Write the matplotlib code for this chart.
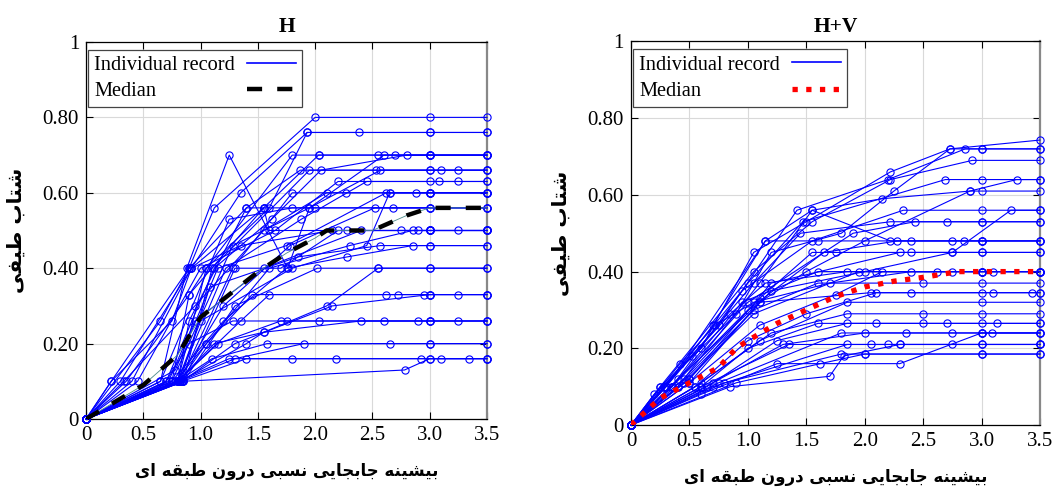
import matplotlib
matplotlib.use('Agg')
import matplotlib.pyplot as plt
from matplotlib.lines import Line2D

# Peak inter-story drift (x) vs spectral acceleration (y), one list per record

h_x = [
    [0, 0.22, 0.90, 1.12, 2.00, 3.00, 3.50],
    [0, 0.30, 0.92, 1.35, 1.93, 2.38, 3.00, 3.50],
    [0, 0.80, 1.05, 1.60, 1.93, 3.00, 3.50],
    [0, 0.65, 0.88, 1.25, 1.76, 1.95, 2.60, 3.00, 3.50],
    [0, 0.75, 0.90, 1.05, 1.80, 2.03, 2.70, 3.00, 3.50],
    [0, 0.40, 0.92, 1.55, 2.03, 2.55, 3.00, 3.50],
    [0, 0.70, 1.12, 1.62, 2.05, 2.80, 3.00, 3.50],
    [0, 0.80, 0.90, 1.40, 1.87, 2.53, 3.00, 3.50],
    [0, 0.85, 1.10, 1.95, 3.00, 3.25, 3.50],
    [0, 0.75, 1.28, 1.95, 2.57, 3.10, 3.50],
    [0, 0.45, 1.00, 1.65, 2.20, 3.00, 3.50],
    [0, 0.80, 1.22, 1.88, 2.45, 3.08, 3.25, 3.50],
    [0, 0.82, 1.28, 1.80, 2.27, 3.00, 3.50],
    [0, 0.33, 0.95, 1.55, 2.10, 2.65, 2.88, 3.00, 3.50],
    [0, 0.78, 1.15, 1.75, 2.62, 3.00, 3.50],
    [0, 0.65, 1.25, 1.80, 2.68, 3.00, 3.50],
    [0, 0.80, 1.20, 1.78, 2.52, 3.00, 3.50],
    [0, 0.85, 1.30, 1.70, 2.20, 2.75, 3.00, 3.50],
    [0, 0.72, 0.95, 1.55, 2.40, 2.90, 3.00, 3.50],
    [0, 0.78, 1.05, 1.60, 2.30, 2.85, 3.00, 3.25, 3.50],
    [0, 0.80, 1.00, 1.80, 2.45, 2.65, 3.00, 3.50],
    [0, 0.82, 1.08, 1.85, 2.57, 3.00, 3.50],
    [0, 0.75, 1.20, 1.75, 2.28, 2.85, 3.00, 3.50],
    [0, 0.85, 1.30, 2.02, 2.55, 3.00, 3.50],
    [0, 0.80, 1.12, 1.55, 2.10, 2.55, 3.00, 3.50],
    [0, 0.80, 1.35, 1.60, 2.62, 3.00, 3.50],
    [0, 0.82, 1.05, 1.45, 2.72, 2.95, 3.00, 3.50],
    [0, 0.84, 1.30, 2.15, 3.00, 3.25, 3.50],
    [0, 0.70, 0.90, 1.28, 1.75, 2.60, 3.00, 3.50],
    [0, 0.80, 1.15, 1.70, 2.03, 2.90, 3.00, 3.50],
    [0, 0.82, 1.40, 1.55, 2.40, 3.00, 3.25, 3.50],
    [0, 0.80, 1.10, 1.58, 2.65, 3.00, 3.50],
    [0, 0.82, 1.30, 1.90, 3.00, 3.50],
    [0, 0.80, 1.25, 2.18, 2.92, 3.00, 3.50],
    [0, 0.84, 1.40, 1.80, 3.10, 3.34, 3.50],
    [0, 0.84, 2.78, 3.00, 3.50],
    [0, 0.65, 0.90, 1.40, 1.55, 2.00, 3.00, 3.50],
    [0, 0.22, 0.75, 0.92, 1.35, 2.15, 3.00, 3.50],
    [0, 0.35, 0.90, 1.55, 1.60, 2.28, 3.00, 3.50],
]
h_y = [
    [0, 0.10, 0.40, 0.56, 0.80, 0.80, 0.80],
    [0, 0.10, 0.40, 0.60, 0.76, 0.76, 0.76, 0.76],
    [0, 0.10, 0.40, 0.56, 0.76, 0.76, 0.76],
    [0, 0.10, 0.40, 0.70, 0.40, 0.56, 0.70, 0.70, 0.70],
    [0, 0.10, 0.33, 0.40, 0.70, 0.70, 0.70, 0.70, 0.70],
    [0, 0.10, 0.40, 0.56, 0.70, 0.70, 0.70, 0.70],
    [0, 0.10, 0.40, 0.53, 0.66, 0.70, 0.70, 0.70],
    [0, 0.10, 0.26, 0.56, 0.66, 0.66, 0.66, 0.66],
    [0, 0.10, 0.40, 0.66, 0.66, 0.66, 0.66],
    [0, 0.10, 0.46, 0.56, 0.66, 0.66, 0.66],
    [0, 0.10, 0.40, 0.50, 0.63, 0.63, 0.63],
    [0, 0.10, 0.40, 0.53, 0.63, 0.63, 0.63, 0.63],
    [0, 0.10, 0.40, 0.60, 0.60, 0.60, 0.60],
    [0, 0.10, 0.30, 0.50, 0.60, 0.60, 0.60, 0.60, 0.60],
    [0, 0.13, 0.40, 0.46, 0.60, 0.60, 0.60],
    [0, 0.10, 0.53, 0.56, 0.56, 0.56, 0.56],
    [0, 0.10, 0.30, 0.46, 0.56, 0.56, 0.56],
    [0, 0.10, 0.40, 0.40, 0.50, 0.50, 0.50, 0.50],
    [0, 0.10, 0.26, 0.40, 0.50, 0.50, 0.50, 0.50],
    [0, 0.10, 0.20, 0.40, 0.46, 0.50, 0.50, 0.50, 0.50],
    [0, 0.10, 0.26, 0.40, 0.46, 0.60, 0.60, 0.60],
    [0, 0.10, 0.35, 0.43, 0.46, 0.46, 0.46],
    [0, 0.10, 0.26, 0.40, 0.43, 0.46, 0.46, 0.46],
    [0, 0.10, 0.30, 0.40, 0.40, 0.40, 0.40],
    [0, 0.10, 0.20, 0.23, 0.30, 0.40, 0.40, 0.40],
    [0, 0.10, 0.26, 0.33, 0.33, 0.33, 0.33],
    [0, 0.10, 0.20, 0.33, 0.33, 0.33, 0.33, 0.33],
    [0, 0.10, 0.20, 0.30, 0.33, 0.33, 0.33],
    [0, 0.10, 0.20, 0.26, 0.26, 0.26, 0.26, 0.26],
    [0, 0.10, 0.20, 0.26, 0.26, 0.26, 0.26, 0.26],
    [0, 0.10, 0.20, 0.23, 0.26, 0.26, 0.26, 0.26],
    [0, 0.10, 0.16, 0.20, 0.20, 0.20, 0.20],
    [0, 0.10, 0.16, 0.20, 0.20, 0.20],
    [0, 0.10, 0.16, 0.16, 0.16, 0.16, 0.16],
    [0, 0.10, 0.16, 0.16, 0.16, 0.16, 0.16],
    [0, 0.10, 0.13, 0.16, 0.16],
    [0, 0.26, 0.40, 0.56, 0.56, 0.56, 0.56, 0.56],
    [0, 0.10, 0.26, 0.40, 0.46, 0.50, 0.50, 0.50],
    [0, 0.10, 0.33, 0.56, 0.50, 0.50, 0.50, 0.50],
]
h_med_x = [0, 0.5, 0.8, 1.0, 1.25, 1.5, 1.75, 2.0, 2.1, 2.5, 2.8, 3.0, 3.5]
h_med_y = [0, 0.09, 0.17, 0.27, 0.33, 0.39, 0.44, 0.48, 0.50, 0.50, 0.54, 0.56, 0.56]

hv_x = [
    [0, 0.25, 0.60, 1.05, 1.50, 2.22, 2.73, 3.50],
    [0, 0.28, 0.75, 1.42, 2.20, 2.86, 3.00, 3.50],
    [0, 0.20, 0.90, 1.20, 1.80, 2.25, 2.73, 3.00, 3.50],
    [0, 0.25, 1.05, 1.55, 2.22, 2.92, 3.50],
    [0, 0.30, 0.70, 1.15, 1.55, 2.15, 2.90, 3.00, 3.50],
    [0, 0.35, 1.00, 1.47, 2.69, 3.00, 3.50],
    [0, 0.40, 1.10, 1.50, 2.00, 2.90, 3.30, 3.50],
    [0, 0.28, 0.95, 1.55, 2.33, 3.00, 3.50],
    [0, 0.30, 1.05, 1.45, 2.22, 2.70, 3.00, 3.50],
    [0, 0.35, 1.00, 1.90, 2.43, 3.00, 3.50],
    [0, 0.40, 1.10, 1.55, 2.22, 2.40, 3.00, 3.50],
    [0, 0.30, 1.15, 1.60, 2.75, 3.00, 3.50],
    [0, 0.35, 1.00, 1.65, 2.28, 2.85, 3.00, 3.50],
    [0, 0.45, 1.10, 1.55, 1.75, 2.40, 3.00, 3.50],
    [0, 0.50, 1.20, 2.30, 2.75, 3.00, 3.50],
    [0, 0.50, 1.20, 2.00, 2.75, 3.25, 3.50],
    [0, 0.35, 0.95, 1.60, 2.10, 3.00, 3.50],
    [0, 0.45, 1.05, 1.95, 2.75, 3.00, 3.50],
    [0, 0.50, 1.10, 1.75, 2.15, 3.10, 3.50],
    [0, 0.40, 1.05, 1.60, 2.50, 3.00, 3.50],
    [0, 0.50, 1.10, 2.05, 2.40, 3.00, 3.50],
    [0, 0.55, 1.00, 1.50, 2.10, 3.10, 3.43, 3.50],
    [0, 0.60, 1.10, 1.85, 3.00, 3.50],
    [0, 0.55, 1.20, 1.85, 2.50, 3.00, 3.50],
    [0, 0.60, 1.00, 1.60, 2.10, 2.70, 3.00, 3.50],
    [0, 0.65, 1.25, 1.85, 2.50, 3.13, 3.50],
    [0, 0.70, 1.30, 2.00, 2.35, 3.00, 3.50],
    [0, 0.75, 1.80, 2.75, 3.00, 3.09, 3.50],
    [0, 0.60, 1.35, 2.05, 2.30, 3.00, 3.50],
    [0, 0.70, 1.85, 2.20, 2.75, 3.00, 3.50],
    [0, 0.80, 1.80, 2.00, 3.00, 3.50],
    [0, 0.90, 1.62, 2.00, 3.00, 3.50],
    [0, 0.85, 1.70, 1.82, 2.30, 3.50],
    [0, 0.60, 1.25, 2.30, 3.00, 3.50],
    [0, 0.42, 0.72, 1.05, 1.70, 2.40, 3.00, 3.50],
    [0, 0.52, 0.85, 1.15, 1.85, 2.62, 3.00, 3.50],
]
hv_y = [
    [0, 0.10, 0.20, 0.45, 0.53, 0.66, 0.72, 0.743],
    [0, 0.10, 0.26, 0.56, 0.64, 0.72, 0.72, 0.72],
    [0, 0.08, 0.29, 0.45, 0.50, 0.61, 0.72, 0.72, 0.72],
    [0, 0.10, 0.40, 0.53, 0.64, 0.69, 0.69],
    [0, 0.10, 0.26, 0.48, 0.56, 0.59, 0.61, 0.61, 0.61],
    [0, 0.10, 0.37, 0.53, 0.64, 0.64, 0.64],
    [0, 0.12, 0.32, 0.40, 0.48, 0.61, 0.64, 0.64],
    [0, 0.10, 0.35, 0.48, 0.56, 0.56, 0.56],
    [0, 0.10, 0.37, 0.50, 0.53, 0.53, 0.53, 0.53],
    [0, 0.10, 0.32, 0.50, 0.53, 0.53, 0.53],
    [0, 0.10, 0.37, 0.56, 0.48, 0.48, 0.48, 0.48],
    [0, 0.10, 0.48, 0.48, 0.48, 0.48, 0.48],
    [0, 0.10, 0.30, 0.45, 0.48, 0.48, 0.48, 0.48],
    [0, 0.12, 0.33, 0.45, 0.45, 0.45, 0.45, 0.45],
    [0, 0.12, 0.37, 0.45, 0.45, 0.45, 0.45],
    [0, 0.12, 0.35, 0.40, 0.45, 0.56, 0.56],
    [0, 0.10, 0.32, 0.40, 0.40, 0.40, 0.40],
    [0, 0.11, 0.29, 0.40, 0.40, 0.40, 0.40],
    [0, 0.11, 0.26, 0.34, 0.40, 0.40, 0.40],
    [0, 0.10, 0.30, 0.37, 0.37, 0.37, 0.37],
    [0, 0.11, 0.32, 0.345, 0.345, 0.345, 0.345],
    [0, 0.10, 0.22, 0.29, 0.345, 0.345, 0.345, 0.345],
    [0, 0.11, 0.22, 0.32, 0.32, 0.32],
    [0, 0.10, 0.24, 0.29, 0.29, 0.29, 0.29],
    [0, 0.10, 0.20, 0.265, 0.265, 0.265, 0.265, 0.265],
    [0, 0.10, 0.22, 0.265, 0.265, 0.265, 0.265],
    [0, 0.11, 0.21, 0.24, 0.24, 0.24, 0.24],
    [0, 0.11, 0.24, 0.24, 0.24, 0.24, 0.24],
    [0, 0.10, 0.21, 0.21, 0.21, 0.21, 0.21],
    [0, 0.10, 0.21, 0.21, 0.21, 0.21, 0.21],
    [0, 0.11, 0.185, 0.185, 0.185, 0.185],
    [0, 0.11, 0.16, 0.185, 0.185, 0.185],
    [0, 0.10, 0.127, 0.18, 0.21, 0.21],
    [0, 0.08, 0.16, 0.16, 0.24, 0.24],
    [0, 0.16, 0.26, 0.32, 0.37, 0.40, 0.40, 0.40],
    [0, 0.18, 0.29, 0.37, 0.40, 0.40, 0.40, 0.40],
]
hv_med_x = [0, 0.25, 0.5, 0.75, 0.9, 1.0, 1.25, 1.5, 1.75, 2.0, 2.25, 2.5, 2.8, 3.5]
hv_med_y = [0, 0.07, 0.11, 0.15, 0.20, 0.22, 0.265, 0.30, 0.335, 0.36, 0.375, 0.385, 0.40, 0.40]

titles = ['H', 'H+V']
xticks = [0, 0.5, 1.0, 1.5, 2.0, 2.5, 3.0, 3.5]
xticklabels = ['0', '0.5', '1.0', '1.5', '2.0', '2.5', '3.0', '3.5']
yticks = [0, 0.2, 0.4, 0.6, 0.8, 1.0]
yticklabels = ['0', '0.20', '0.40', '0.60', '0.80', '1']

# Persian labels written with presentation forms (no shaping engine in matplotlib)
ylab = '\uFEF0\uFED4\uFEF4\uFEC3 \uFE8F\uFE8E\uFE98\uFEB7'
xlab_logical = ('\uFE91\uFEF4\uFEB8\uFEF4\uFEE8\uFEEA '
                '\uFE9F\uFE8E\uFE91\uFEA0\uFE8E\uFEF3\uFEF0 '
                '\uFEE7\uFEB4\uFE92\uFEF0 '
                '\uFEA9\uFEAD\uFEED\uFEE5 '
                '\uFEC3\uFE92\uFED8\uFEEA '
                '\uFE8D\uFEEF')
xlab = xlab_logical[::-1]

plt.rcParams['font.family'] = ['Liberation Serif', 'DejaVu Sans']

fig = plt.figure(figsize=(10.58, 4.87), dpi=100)
ax1 = fig.add_axes([0.0813, 0.1396, 0.379, 0.7742])
ax2 = fig.add_axes([0.5964, 0.1273, 0.3866, 0.7875])

blue = '#0000ff'
panels = [(ax1, h_x, h_y, h_med_x, h_med_y), (ax2, hv_x, hv_y, hv_med_x, hv_med_y)]
legends = []

for i, (ax, xs, ys, mx, my) in enumerate(panels):
    for x, y in zip(xs, ys):
        ax.plot(x, y, color=blue, lw=0.8, marker='o', ms=5.2, mfc='none',
                mec=blue, mew=0.8, clip_on=False, zorder=3)
    if i == 0:
        ax.plot(mx, my, color='#4a8a8a', lw=0.6, zorder=4)
        ax.plot(mx, my, color='black', lw=3.2, ls=(0, (3.4, 3.4)), zorder=5)
        med_handle = Line2D([], [], color='black', lw=3.2, ls=(0, (3.4, 3.4)))
    else:
        ax.plot(mx, my, color='red', lw=3.8, ls=(0, (1, 1.6)), zorder=5)
        med_handle = Line2D([], [], color='red', lw=3.8, ls=(0, (1, 1.6)))

    ax.set_xlim(0, 3.5)
    ax.set_ylim(0, 1)
    ax.set_xticks(xticks)
    ax.set_xticklabels(xticklabels)
    ax.set_yticks(yticks)
    ax.set_yticklabels(yticklabels)
    ax.tick_params(direction='in', top=True, right=True, labelsize=15, length=5,
                   width=0.8, pad=5)
    ax.grid(True, color='#d9d9d9', lw=0.8)
    ax.set_axisbelow(True)
    for s in ax.spines.values():
        s.set_linewidth(0.9)
    ax.spines['right'].set_color('#888888')
    ax.spines['right'].set_linewidth(1.6)

    ax.set_title(titles[i], fontsize=15.5, fontweight='bold', pad=7)
    ax.set_ylabel(ylab, family=['DejaVu Sans'], fontweight='bold', fontsize=14.5, labelpad=12)
    ax.set_xlabel(xlab, family=['DejaVu Sans'], fontweight='bold', fontsize=12, labelpad=12)

    ind_handle = Line2D([], [], color=blue, lw=1.2)
    leg = ax.legend([ind_handle, med_handle], ['Individual record', 'Median'],
                    loc='upper left', bbox_to_anchor=(0.005, 0.98), borderaxespad=0,
                    markerfirst=False, fontsize=14.7, handlelength=2.4, fancybox=False,
                    framealpha=1, edgecolor='#444444', borderpad=0.3,
                    labelspacing=0.35, handletextpad=0.6)
    leg.get_frame().set_linewidth(0.9)
    legends.append(leg)

# left-align legend labels while keeping the line samples at the right
fig.canvas.draw()
renderer = fig.canvas.get_renderer()
for leg in legends:
    for col in leg._legend_handle_box.get_children():
        rows = col.get_children()
        w = max(r.get_bbox(renderer).width for r in rows)
        for r in rows:
            r.width = w
            r.mode = 'expand'
        col.align = 'left'

fig.savefig('out.png', dpi=100)
